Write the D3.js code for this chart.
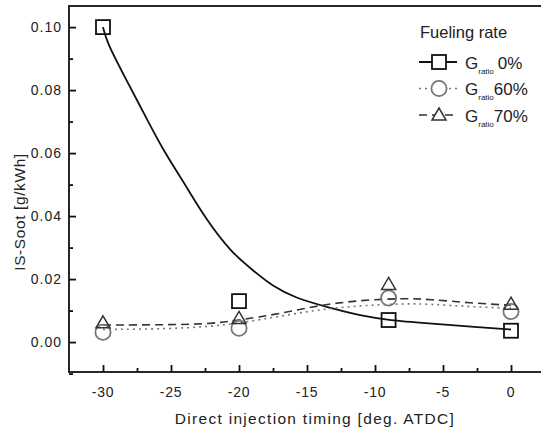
<!DOCTYPE html>
<html>
<head>
<meta charset="utf-8">
<script src="https://cdn.jsdelivr.net/npm/d3@7/dist/d3.min.js"></script>
<style>
  body { margin: 0; background: #fff; }
  text { font-family: "Liberation Sans", Arial, sans-serif; fill: #222; }
</style>
</head>
<body>
<div id="chart"></div>
<script>
// measured points
var timing = [-30, -20, -9, 0];
var soot0 = [0.100, 0.013, 0.0070, 0.0036];
var soot60 = [0.0031, 0.0044, 0.0140, 0.0097];
var soot70 = [0.0058, 0.0072, 0.0180, 0.0117];

// smoothed curves
var fitX = [-30, -29.7, -28.5, -27.3, -25.6, -24.15, -22.4, -20.5, -19, -17.5, -15.8, -13.6, -10.7, -9, -6.2, -2.5, 0];
var fit0 = [0.100, 0.095, 0.085, 0.0752, 0.061, 0.0514, 0.0387, 0.0282, 0.0229, 0.0176, 0.0139, 0.0112, 0.0080, 0.0070, 0.0060, 0.0047, 0.0040];
var smoothX = [-30, -25, -22, -20, -17, -14, -11, -8, -6, -3, 0];
var fit60 = [0.0040, 0.0042, 0.0050, 0.0060, 0.0082, 0.0104, 0.0116, 0.0122, 0.0121, 0.0112, 0.0108];
var fit70 = [0.0054, 0.0055, 0.0058, 0.0070, 0.0090, 0.0118, 0.0133, 0.0139, 0.0136, 0.0124, 0.0117];

var xTicks = [-30, -25, -20, -15, -10, -5, 0];
var yTicks = [0, 0.02, 0.04, 0.06, 0.08, 0.10];

var width = 541, height = 433;
var svg = d3.select('#chart').append('svg')
  .attr('width', width)
  .attr('height', height);

var x = d3.scaleLinear().domain([-32.5, 2.5]).range([69, 545]);
var y = d3.scaleLinear().domain([-0.0095, 0.1067]).range([372, 6]);

// frame
svg.append('rect')
  .attr('x', 69).attr('y', 6)
  .attr('width', 545 - 69).attr('height', 372 - 6)
  .attr('fill', 'none').attr('stroke', '#111').attr('stroke-width', 1.8);

// ticks point inward
var gx = svg.append('g').attr('transform', 'translate(0,372)')
  .call(d3.axisTop(x).tickValues(xTicks).tickSize(7).tickFormat(''));
var gx2 = svg.append('g').attr('transform', 'translate(0,372)')
  .call(d3.axisTop(x).tickValues(d3.range(-27.5, 0, 5)).tickSize(4).tickFormat(''));
var gy = svg.append('g').attr('transform', 'translate(69,0)')
  .call(d3.axisRight(y).tickValues(yTicks).tickSize(7).tickFormat(''));
var gy2 = svg.append('g').attr('transform', 'translate(69,0)')
  .call(d3.axisRight(y).tickValues([-0.01, 0.01, 0.03, 0.05, 0.07, 0.09]).tickSize(4).tickFormat(''));

[gx, gx2, gy, gy2].forEach(function(g) {
  g.select('.domain').remove();
  g.selectAll('line').attr('stroke', '#111').attr('stroke-width', 1.8);
});

// tick labels
svg.selectAll('.xlab').data(xTicks).enter().append('text')
  .attr('x', function(d) { return x(d); })
  .attr('y', 397)
  .attr('text-anchor', 'middle')
  .style('font-size', '14px')
  .style('letter-spacing', '0.8px')
  .text(function(d) { return d; });

svg.selectAll('.ylab').data(yTicks).enter().append('text')
  .attr('x', 62)
  .attr('y', function(d) { return y(d) + 5; })
  .attr('text-anchor', 'end')
  .style('font-size', '14px')
  .style('letter-spacing', '1px')
  .text(function(d) { return d.toFixed(2); });

svg.append('text')
  .attr('x', 315).attr('y', 424)
  .attr('text-anchor', 'middle')
  .style('font-size', '15.5px')
  .style('letter-spacing', '1.3px')
  .text('Direct injection timing [deg. ATDC]');

svg.append('text')
  .attr('transform', 'translate(25,212) rotate(-90)')
  .attr('text-anchor', 'middle')
  .style('font-size', '15.5px')
  .style('letter-spacing', '0.6px')
  .text('IS-Soot [g/kWh]');

// curves
var line = d3.line()
  .x(function(d) { return x(d[0]); })
  .y(function(d) { return y(d[1]); })
  .curve(d3.curveBasis);

var series = [
  {name: '0%', px: fitX, py: fit0, my: soot0, color: '#111', dash: null, lw: 1.8, shape: 'square'},
  {name: '60%', px: smoothX, py: fit60, my: soot60, color: '#777', dash: '2,4', lw: 1.6, shape: 'circle'},
  {name: '70%', px: smoothX, py: fit70, my: soot70, color: '#333', dash: '8,5', lw: 1.6, shape: 'triangle'}
];

series.forEach(function(s) {
  svg.append('path')
    .datum(d3.zip(s.px, s.py))
    .attr('d', line)
    .attr('fill', 'none')
    .attr('stroke', s.color)
    .attr('stroke-width', s.lw)
    .attr('stroke-dasharray', s.dash);
});

function marker(g, shape, color, fill) {
  if (shape === 'square') {
    g.append('rect').attr('x', -7).attr('y', -7).attr('width', 14).attr('height', 14)
      .attr('fill', fill).attr('stroke', color).attr('stroke-width', 1.8);
  } else if (shape === 'circle') {
    g.append('circle').attr('r', 7.6)
      .attr('fill', fill).attr('stroke', color).attr('stroke-width', 1.8);
  } else {
    g.append('path').attr('d', 'M0,-8L7,4L-7,4Z')
      .attr('fill', fill).attr('stroke', color).attr('stroke-width', 1.5);
  }
}

series.forEach(function(s) {
  d3.zip(timing, s.my).forEach(function(p) {
    var g = svg.append('g').attr('transform', 'translate(' + x(p[0]) + ',' + y(p[1]) + ')');
    marker(g, s.shape, s.color, 'none');
  });
});

// legend
var legend = svg.append('g').attr('transform', 'translate(419,0)');
legend.append('text').attr('x', 1).attr('y', 38)
  .style('font-size', '16.5px').text('Fueling rate');

series.forEach(function(s, i) {
  var ly = 62 + i * 26.5;
  var row = legend.append('g').attr('transform', 'translate(0,' + ly + ')');
  row.append('line').attr('x1', 0).attr('x2', 38).attr('y1', 0).attr('y2', 0)
    .attr('stroke', s.color).attr('stroke-width', s.lw).attr('stroke-dasharray', s.dash);
  var m = row.append('g').attr('transform', 'translate(20,' + (s.shape === 'triangle' ? 1 : 0) + ')');
  marker(m, s.shape, s.color, '#fff');
  var t = row.append('text').attr('x', 46).attr('y', 6.5)
    .style('font-size', '17px');
  t.append('tspan').text('G');
  t.append('tspan').attr('dy', 5).style('font-size', '8px').text('ratio');
  t.append('tspan').attr('dy', -5).attr('dx', i === 0 ? 4 : 0).text(s.name);
});
</script>
</body>
</html>
